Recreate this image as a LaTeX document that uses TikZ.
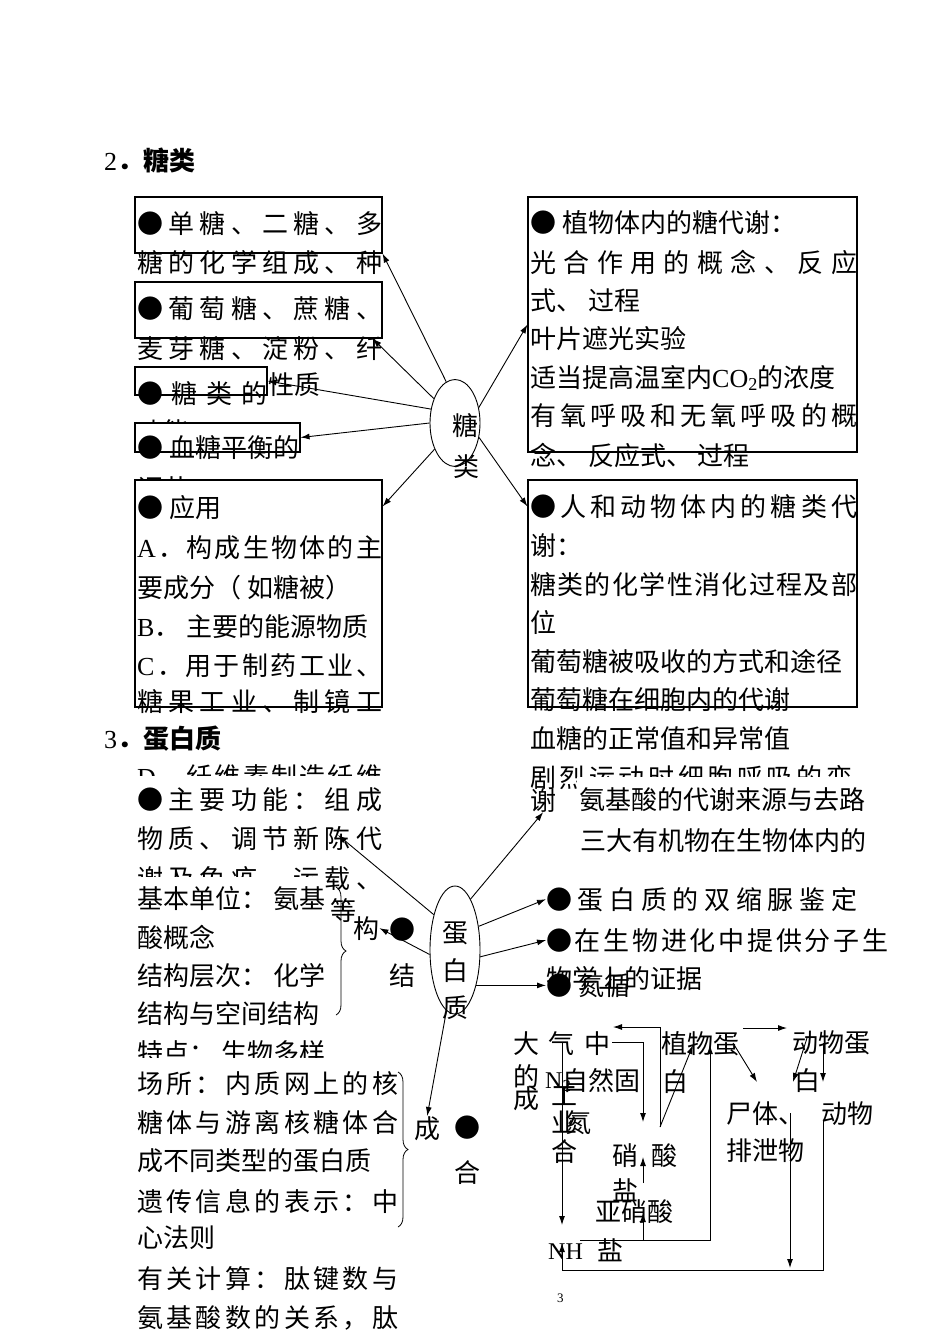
\documentclass[tikz,border=0pt]{standalone}
\usepackage{fontspec}
\setmainfont{Noto Sans CJK SC}
\newfontfamily\lat{Liberation Serif}
\usepackage{tikz}
\usetikzlibrary{arrows.meta,shapes.geometric,decorations.pathreplacing,positioning}
\ExplSyntaxOn
\NewDocumentCommand{\jl}{mm}{\hbox_to_wd:nn {#1pt} {\tl_map_inline:nn {#2} {{##1}\hfil}\unskip}}
\ExplSyntaxOff
\tikzset{
	txt/.style={anchor=base west,inner sep=0pt,font=\fontsize{26}{26}\selectfont},
	kuang/.style={draw,line width=1.1pt,inner sep=0pt},
	tuoyuan/.style={draw,ellipse,line width=0.9pt,inner sep=0pt,minimum width=50pt},
	jian/.style={-{Latex[length=9pt,width=6pt]},line width=0.9pt},
	kuohao/.style={decorate,decoration={brace,amplitude=10pt},line width=0.8pt}
}
\begin{document}
\begin{tikzpicture}[x=1pt,y=-1pt]
	\useasboundingbox (0,0) rectangle (950,1342);
	% 2. tang lei
	\path (104,170) node(ti2) [txt,font=\fontsize{26}{26}\selectfont\bfseries] {{\lat\mdseries 2}．糖类};
	\path 
	(258.5,225) node(k1) [kuang,minimum width=247,minimum height=56] {}
	(258.5,310) node(k2) [kuang,minimum width=247,minimum height=56] {}
	(201,381) node(k3) [kuang,minimum width=132,minimum height=28] {}
	(217.5,437.5) node(k4) [kuang,minimum width=165,minimum height=29] {}
	(258.5,593.5) node(k5) [kuang,minimum width=247,minimum height=227] {}
	(692.5,324.5) node(r1) [kuang,minimum width=329,minimum height=255] {}
	(692.5,593.5) node(r2) [kuang,minimum width=329,minimum height=227] {};
	\path 
	(137,233) node(l1) [txt] {\jl{245}{●单糖、二糖、多}}
	(137,272) node(l2) [txt] {\jl{245}{糖的化学组成、种}}
	(137,318) node(l3) [txt] {\jl{245}{●葡萄糖、蔗糖、}}
	(137,358) node(l4) [txt] {\jl{245}{麦芽糖、淀粉、纤}}
	(137,403) node(l5) [txt] {\jl{130}{●糖类的}}
	(268,394) node(l6) [txt] {性质}
	(137,457) node(l7) [txt] {● 血糖平衡的}
	(137,517) node(l8) [txt] {● 应用}
	(137,557) node(l9) [txt] {\jl{245}{{\lat A}．构成生物体的主}}
	(137,597) node(l10) [txt] {要成分（ 如糖被）}
	(137,636) node(l11) [txt] {{\lat B}． 主要的能源物质}
	(137,675) node(l12) [txt] {\jl{245}{{\lat C}．用于制药工业、}}
	(137,711) node(l13) [txt] {\jl{245}{糖果工业、制镜工}};
	\begin{scope}
		\clip (130,410) rectangle (260,423);
		\path (137,441) node(c1) [txt] {功能};
	\end{scope}
	\begin{scope}
		\clip (130,470) rectangle (260,480);
		\path (137,498) node(c2) [txt] {调节};
	\end{scope}
	\path 
	(530,232) node(m1) [txt] {● 植物体内的糖代谢：}
	(530,272) node(m2) [txt] {\jl{327}{光合作用的概念、反应}}
	(530,310) node(m3) [txt] {式、 过程}
	(530,348) node(m4) [txt] {叶片遮光实验}
	(530,387) node(m5) [txt] {适当提高温室内{\lat CO\textsubscript{2}}的浓度}
	(530,425) node(m6) [txt] {\jl{327}{有氧呼吸和无氧呼吸的概}}
	(530,465) node(m7) [txt] {念、 反应式、 过程}
	(530,516) node(n1) [txt] {\jl{327}{●人和动物体内的糖类代}}
	(530,555) node(n2) [txt] {谢：}
	(530,594) node(n3) [txt] {\jl{327}{糖类的化学性消化过程及部}}
	(530,632) node(n4) [txt] {位}
	(530,671) node(n5) [txt] {葡萄糖被吸收的方式和途径}
	(530,709) node(n6) [txt] {葡萄糖在细胞内的代谢}
	(530,748) node(n7) [txt] {血糖的正常值和异常值}
	(530,810) node(xie) [txt] {谢};
	\begin{scope}
		\clip (525,755) rectangle (576,800) (576,755) rectangle (880,776);
		\path (530,787) node(n8) [txt] {\jl{322}{剧烈运动时细胞呼吸的变}};
	\end{scope}
	% ellipse tang lei
	\path (455,423) node(tang) [tuoyuan,minimum height=87] {}
	(452,435) node(tg1) [txt] {糖}
	(453,476) node(tg2) [txt] {类};
	\draw   
	(tang.102) edge[jian] (k1.south east)
	(tang.131) edge[jian] ([xshift=-10]k2.south east)
	(tang.150) edge[jian] (k3.east)
	(tang.180) edge[jian] (k4.east)
	(tang.232) edge[jian] ([yshift=-27]k5.north east)
	(tang.33) edge[jian] (r1.west)
	(tang.-31) edge[jian] ([yshift=-27]r2.north west);
	% 3. dan bai zhi
	\path (104,748) node(ti3) [txt,font=\fontsize{26}{26}\selectfont\bfseries] {{\lat\mdseries 3}．蛋白质};
	\begin{scope}
		\clip (130,755) rectangle (390,775);
		\path (137,786) node(c3) [txt] {\jl{245}{{\lat D}．纤维素制造纤维}};
	\end{scope}
	\path 
	(137,809) node(p1) [txt] {\jl{245}{●主要功能：组成}}
	(137,848) node(p2) [txt] {\jl{245}{物质、调节新陈代}}
	(330,920) node(deng) [txt] {等}
	(137,908) node(p3) [txt] {基本单位： 氨基}
	(137,947) node(p4) [txt] {酸概念}
	(137,985) node(p5) [txt] {结构层次： 化学}
	(137,1023) node(p6) [txt] {结构与空间结构}
	(137,1093) node(p7) [txt] {\jl{261}{场所：内质网上的核}}
	(137,1132) node(p8) [txt] {\jl{261}{糖体与游离核糖体合}}
	(137,1170) node(p9) [txt] {成不同类型的蛋白质}
	(137,1211) node(p10) [txt] {\jl{261}{遗传信息的表示：中}}
	(137,1247) node(p11) [txt] {心法则}
	(137,1288) node(p12) [txt] {\jl{261}{有关计算：肽键数与}}
	(137,1327) node(p13) [txt] {\jl{261}{氨基酸数的关系，肽}};
	\begin{scope}
		\clip (130,855) rectangle (320,876) (320,855) rectangle (400,905);
		\path (137,888) node(c4) [txt] {\jl{245}{谢及免疫、运载、}};
	\end{scope}
	\begin{scope}
		\clip (130,1030) rectangle (390,1057);
		\path (137,1062) node(c5) [txt] {特点： 生物多样};
	\end{scope}
	\draw[kuohao] (336,887) -- (336,1015);
	\draw[kuohao] (398,1072) -- (398,1227);
	\path 
	(353,938) node(gou) [txt] {构}
	(389,939) node(jd) [txt] {●}
	(389,985) node(jie) [txt] {结}
	(414,1138) node(cheng) [txt] {成}
	(454,1137) node(hd) [txt] {●}
	(454,1182) node(he) [txt] {合};
	\path 
	(579,809) node(q1) [txt] {氨基酸的代谢来源与去路}
	(580,850) node(q2) [txt] {三大有机物在生物体内的}
	(546,909) node(q3) [txt] {\jl{311}{●蛋白质的双缩脲鉴定}}
	(546,950) node(q4) [txt] {\jl{342}{●在生物进化中提供分子生}}
	(546,988) node(q5) [txt] {物学上的证据}
	(546,995) node(q6) [txt] {● 氮循};
	% ellipse dan bai zhi
	\path (455,950) node(dan) [tuoyuan,minimum height=128] {}
	(442,942) node(d1) [txt] {蛋}
	(442,980) node(d2) [txt] {白}
	(442,1017) node(d3) [txt] {质};
	\coordinate (gn) at (338,835);
	\draw   
	(dan.121) edge[jian] (gn)
	(dan.190) edge[jian] (gou.east)
	(dan.262) edge[jian] (cheng.north)
	(dan.73) edge[jian] (xie.south)
	(dan.45) edge[jian] (q3.west)
	(dan.-15) edge[jian] (q4.west)
	(dan.-59) edge[jian] (dan.-59 -| q6.west);
	% dan xun huan
	\path 
	(513,1053) node(dq) [txt] {\jl{97}{大气中}}
	(513,1086) node(de) [txt] {的}
	(513,1108) node(dc) [txt] {成}
	(545,1088) node(nn) [txt,font=\lat\fontsize{24}{24}\selectfont] {N\textsubscript{2}}
	(562,1090) node(zr) [txt] {自然固}
	(551,1105) node(gy1) [txt] {工}
	(551,1132) node(gy2) [txt] {业}
	(565,1132) node(gy3) [txt] {氮}
	(551,1161) node(gy4) [txt] {合}
	(612,1165) node(xs1) [txt] {硝}
	(651,1165) node(xs2) [txt] {酸}
	(612,1200) node(xs3) [txt] {盐}
	(595,1221) node(yx) [txt] {亚硝酸}
	(597,1260) node(yx2) [txt] {盐}
	(548,1259) node(nh) [txt,font=\lat\fontsize{24}{24}\selectfont] {NH}
	(661,1053) node(zw) [txt] {植物蛋}
	(662,1091) node(zw2) [txt] {白}
	(792,1052) node(dw) [txt] {动物蛋}
	(794,1090) node(dw2) [txt] {白}
	(726,1123) node(st) [txt] {尸体、}
	(726,1160) node(px) [txt] {排泄物}
	(821,1123) node(dw3) [txt] {动物}
	(557,1302) node(pg) [txt,font=\lat\fontsize{13}{13}\selectfont] {3};
	\coordinate (a1) at (660,1127);
	\coordinate (a2) at (613,1027);
	\coordinate (a3) at (612,1042);
	\coordinate (a4) at (643,1122);
	\coordinate (a5) at (693,1045);
	\coordinate (a6) at (643,1183);
	\coordinate (a7) at (643,1157);
	\coordinate (a8) at (580,1240);
	\coordinate (a9) at (710,1045);
	\coordinate (a10) at (643,1240);
	\coordinate (a11) at (643,1213);
	\coordinate (b1) at (743,1028);
	\coordinate (b2) at (787,1028);
	\coordinate (b3) at (733,1043);
	\coordinate (b4) at (757,1082);
	\coordinate (b5) at (807,1038);
	\coordinate (b6) at (793,1082);
	\coordinate (b7) at (823,1043);
	\coordinate (b8) at (823,1082);
	\coordinate (b9) at (790,1113);
	\coordinate (b10) at (790,1268);
	\coordinate (b11) at (823,1120);
	\coordinate (b12) at (562,1270);
	\coordinate (b13) at (562,1243);
	\coordinate (b14) at (562,1043);
	\coordinate (b15) at (562,1225);
	\draw[jian] (a1) |- (a2);
	\draw[jian] (a3) -| (a4);
	\draw[jian] (a1) -- (a5);
	\draw[jian] (a6) -- (a7);
	\draw[jian] (a8) -| (a9);
	\draw[jian] (a10) -- (a11);
	\draw[jian] (b1) -- (b2);
	\draw[jian] (b3) -- (b4);
	\draw[jian] (b5) -- (b6);
	\draw[jian] (b7) -- (b8);
	\draw[jian] (b9) -- (b10);
	\draw[jian] (b11) |- (b12) -- (b13);
	\draw[jian] (b14) -- (b15);
\end{tikzpicture}
\end{document}
